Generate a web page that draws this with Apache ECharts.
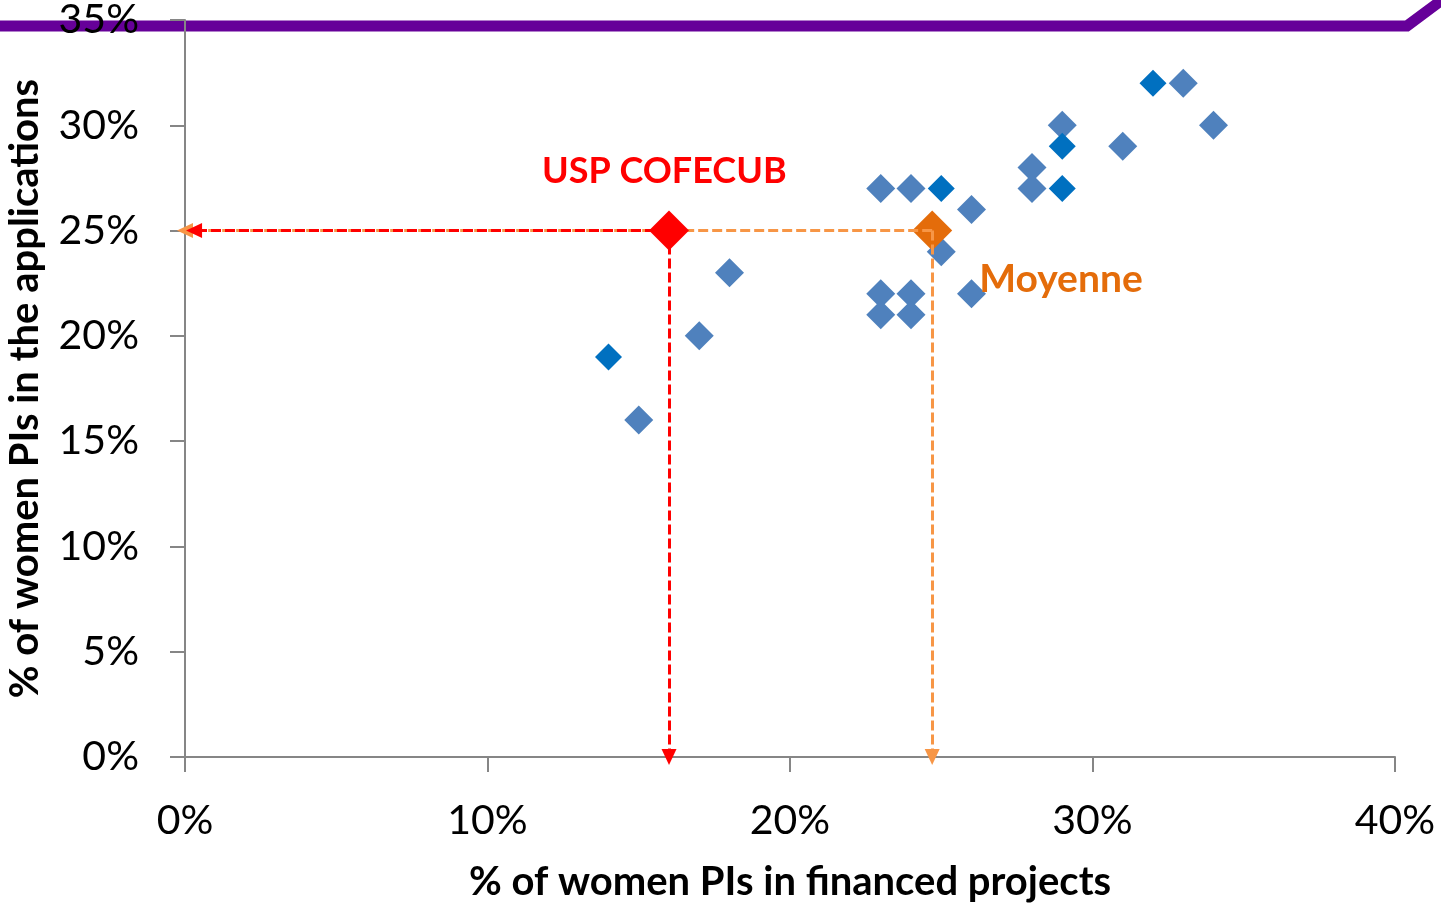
<!DOCTYPE html>
<html>
<head>
<meta charset="utf-8">
<script src="https://cdn.jsdelivr.net/npm/echarts@6/dist/echarts.min.js"></script>
<style>
  html, body { margin: 0; padding: 0; background: #fff; }
  #chart { width: 1441px; height: 903px; }
</style>
</head>
<body>
<div id="chart"></div>
<script>
// programmes, light blue markers: [% financed, % applications]
const financedLight = [15, 17, 18, 23, 24, 26, 25, 23, 24, 23, 24, 26, 28, 28, 29, 31, 33, 34]
const appliedLight  = [16, 20, 23, 27, 27, 26, 24, 22, 22, 21, 21, 22, 28, 27, 30, 29, 32, 30]
// programmes, darker blue markers
const financedDark = [14, 25, 29, 29, 32]
const appliedDark  = [19, 27, 29, 27, 32]
// highlighted points
const uspCofecub = [16, 25]
const moyenne = [24.7, 25]

const xTicks = [0, 10, 20, 30, 40]
const yTicks = [0, 5, 10, 15, 20, 25, 30, 35]

const font = 'Lato'
const axisGrey = '#868686'

const pairs = (xs, ys) => xs.map((x, i) => [x, ys[i]])

const dashLine = (from, to) => [{ coord: from }, { coord: to }]

const option = {
  animation: false,
  backgroundColor: '#fff',
  textStyle: { fontFamily: font },
  grid: { left: 185, right: 46, top: 20, bottom: 146, outerBoundsMode: 'none', containLabel: false },
  graphic: [{
    type: 'polyline',
    z: -10,
    shape: { points: [[-5, 26], [1407, 26], [1446, -3]] },
    style: { stroke: '#660099', lineWidth: 11, fill: null }
  }],
  xAxis: {
    type: 'value',
    min: xTicks[0],
    max: xTicks[xTicks.length - 1],
    interval: 10,
    name: '% of women PIs in financed projects',
    nameLocation: 'middle',
    nameGap: 105,
    nameTextStyle: { fontFamily: font, fontWeight: 'bold', fontSize: 40, color: '#000' },
    axisLine: { lineStyle: { color: axisGrey, width: 2 } },
    axisTick: { length: 15, lineStyle: { color: axisGrey, width: 2 } },
    axisLabel: { formatter: '{value}%', fontFamily: font, fontSize: 41, color: '#000', margin: 43 },
    splitLine: { show: false }
  },
  yAxis: {
    type: 'value',
    min: yTicks[0],
    max: yTicks[yTicks.length - 1],
    interval: 5,
    name: '% of women PIs in the applications',
    nameLocation: 'middle',
    nameGap: 140,
    nameRotate: 90,
    nameTextStyle: { fontFamily: font, fontWeight: 'bold', fontSize: 40, color: '#000' },
    axisLine: { show: true, lineStyle: { color: axisGrey, width: 2 } },
    axisTick: { show: true, length: 15, lineStyle: { color: axisGrey, width: 2 } },
    axisLabel: { formatter: '{value}%', fontFamily: font, fontSize: 41, color: '#000', margin: 46 },
    splitLine: { show: false }
  },
  series: [
    {
      type: 'scatter',
      symbol: 'diamond',
      symbolSize: 29,
      itemStyle: { color: '#4F81BD', opacity: 1 },
      data: pairs(financedLight, appliedLight),
      z: 3
    },
    {
      type: 'scatter',
      symbol: 'diamond',
      symbolSize: 27,
      itemStyle: { color: '#0070C0', opacity: 1 },
      data: pairs(financedDark, appliedDark),
      z: 3
    },
    {
      // orange dashed guides, drawn under the red ones
      type: 'scatter',
      symbol: 'diamond',
      symbolSize: 40,
      itemStyle: { color: '#E46C0A', opacity: 1 },
      data: [moyenne],
      z: 4,
      label: {
        show: true,
        formatter: 'Moyenne',
        position: [67, 49],
        fontFamily: font,
        fontWeight: 'bold',
        fontSize: 39,
        color: '#E46C0A'
      },
      markLine: {
        silent: true,
        symbol: ['none', 'triangle'],
        symbolSize: [15, 16],
        label: { show: false },
        lineStyle: { type: [10, 4], width: 3, color: '#F79646', opacity: 1 },
        data: [
          dashLine(moyenne, [0, moyenne[1]]),
          dashLine(moyenne, [moyenne[0], 0])
        ]
      }
    },
    {
      type: 'scatter',
      symbol: 'diamond',
      symbolSize: 40,
      itemStyle: { color: '#FF0000', opacity: 1 },
      data: [uspCofecub],
      z: 5,
      label: {
        show: true,
        formatter: 'USP COFECUB',
        position: [-107, -57],
        fontFamily: font,
        fontWeight: 'bold',
        fontSize: 36,
        color: '#FF0000'
      },
      markLine: {
        silent: true,
        symbol: ['none', 'triangle'],
        symbolSize: [15, 16],
        label: { show: false },
        lineStyle: { type: [10, 4], width: 3, color: '#FF0000', opacity: 1 },
        data: [
          dashLine(uspCofecub, [0.3, uspCofecub[1]]),
          dashLine(uspCofecub, [uspCofecub[0], 0])
        ]
      }
    }
  ]
}

const chart = echarts.init(document.getElementById('chart'))
chart.setOption(option)
</script>
</body>
</html>
